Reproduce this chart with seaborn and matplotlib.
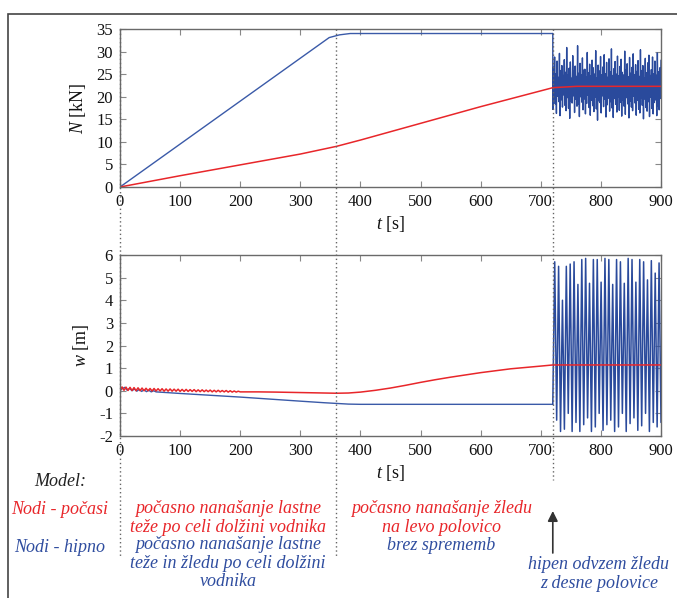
import numpy as np
import pandas as pd
import matplotlib
matplotlib.use("Agg")
import matplotlib.pyplot as plt
import seaborn as sns
from matplotlib import transforms
from matplotlib.patches import Rectangle
from matplotlib.lines import Line2D

# ---------------- data ----------------
# Axial force N [kN], model "hipno" (blue)
t_N_blue = [0, 348, 365, 383, 720]
N_blue = [0.0, 33.1, 33.7, 34.0, 34.0]
# after sudden ice removal (720 s .. 900 s), sampled values
N_blue_osc = [
    17.2, 26.5, 19.6, 28.8, 18.4, 25.1, 16.3, 27.9, 20.1, 24.3,
    18.9, 29.6, 15.8, 25.8, 19.3, 26.9, 17.7, 24.7, 20.4, 28.2,
    18.1, 25.4, 16.9, 30.9, 19.8, 24.9, 17.4, 26.3, 15.2, 27.7,
    19.0, 24.1, 18.6, 29.1, 20.2, 25.6, 16.5, 26.8, 19.4, 24.5,
    17.9, 31.3, 18.3, 25.2, 15.6, 27.4, 20.0, 24.8, 18.8, 28.6,
    17.1, 25.9, 19.5, 26.1, 16.2, 24.4, 18.5, 29.8, 20.3, 25.3,
    17.6, 27.2, 15.9, 24.6, 19.2, 28.1, 18.0, 26.4, 16.7, 25.0,
    19.9, 30.2, 17.3, 24.2, 14.8, 27.0, 19.1, 25.7, 18.7, 28.9,
    16.4, 24.9, 20.2, 26.6, 17.8, 29.3, 19.4, 25.1, 15.5, 27.6,
    18.2, 24.3, 19.7, 28.4, 16.8, 25.5, 18.9, 30.6, 17.5, 24.7,
    15.4, 26.2, 19.6, 27.8, 18.3, 25.0, 16.6, 29.0, 20.0, 24.6,
    17.0, 26.7, 18.8, 28.3, 15.7, 25.4, 19.3, 24.8, 17.9, 30.1,
    16.1, 25.9, 19.8, 27.3, 18.4, 24.4, 15.3, 28.7, 19.0, 25.2,
    17.7, 26.5, 16.9, 29.5, 20.1, 24.9, 18.6, 27.1, 15.9, 25.6,
    19.2, 28.0, 17.2, 24.5, 16.4, 30.4, 19.7, 25.8, 18.1, 26.9,
    15.1, 24.2, 19.5, 28.5, 17.6, 25.3, 16.8, 27.5, 18.9, 29.2,
    15.6, 24.7, 19.9, 26.0, 17.4, 28.8, 16.2, 25.1, 18.7, 27.9,
    19.3, 24.6, 15.8, 29.7, 18.0, 25.5, 17.1, 26.4, 19.6, 28.1,
]
# Axial force N [kN], model "počasi" (red)
t_N_red = [0, 100, 200, 300, 360, 400, 500, 600, 720, 760, 900]
N_red = [0.0, 2.5, 4.9, 7.3, 9.0, 10.4, 14.1, 17.8, 22.0, 22.3, 22.3]

# Displacement w [m], model "počasi" (red): slow ripple 0..200 s, then smooth
w_red_ripple = [
    0.00, 0.17, 0.02, 0.16, 0.01, 0.15, 0.01, 0.14, 0.00, 0.13,
    0.00, 0.12, 0.00, 0.11, 0.00, 0.10, -0.01, 0.10, -0.01, 0.09,
    -0.01, 0.09, -0.02, 0.08, -0.02, 0.08, -0.02, 0.07, -0.02, 0.07,
    -0.03, 0.06, -0.03, 0.06, -0.03, 0.05, -0.03, 0.05, -0.04, 0.04,
    -0.04, 0.04, -0.04, 0.03, -0.04, 0.03, -0.05, 0.02, -0.05, 0.02,
    -0.05, 0.01, -0.05, 0.01, -0.06, 0.00, -0.06, -0.01, -0.06, -0.02,
    -0.05,
]
t_w_red = [230, 260, 300, 340, 360, 380, 400, 425, 450, 475, 500, 525, 550, 600, 650, 700, 720, 900]
w_red = [-0.05, -0.06, -0.08, -0.10, -0.11, -0.10, -0.06, 0.02, 0.12, 0.24, 0.37, 0.49, 0.60, 0.80, 0.97, 1.09, 1.14, 1.14]

# Displacement w [m], model "hipno" (blue)
t_w_blue = [0, 4, 8, 12, 16, 20, 24, 28, 32, 36, 40, 44, 48, 52, 56, 60, 100, 150, 200, 250, 300, 340, 360, 380, 400, 720]
w_blue = [0.0, 0.10, 0.15, 0.02, 0.11, 0.00, 0.08, -0.02, 0.06, -0.03, 0.04, -0.04, 0.02, -0.05, 0.00, -0.05,
          -0.12, -0.20, -0.28, -0.37, -0.46, -0.53, -0.56, -0.59, -0.60, -0.60]
w_blue_osc = [
    -0.6, 5.7, -1.3, 5.5, -1.8, 4.0, -1.7, 5.5, -1.0, 5.6,
    -1.8, 5.7, -1.4, 4.7, -1.8, 5.8, -1.5, 5.85, -1.2, 4.75,
    -1.8, 5.8, -1.6, 5.8, -1.0, 4.8, -1.75, 5.85, -1.5, 5.8,
    -1.3, 4.7, -1.8, 5.8, -1.6, 5.7, -1.0, 4.75, -1.8, 5.85,
    -1.45, 5.8, -1.2, 4.8, -1.75, 5.8, -1.55, 5.7, -1.0, 4.9,
    -1.8, 5.75, -1.4, 5.2, -1.6, 5.65, -1.4,
]

x_ticks = [0, 100, 200, 300, 400, 500, 600, 700, 800, 900]
N_ticks = [0, 5, 10, 15, 20, 25, 30, 35]
w_ticks = [-2, -1, 0, 1, 2, 3, 4, 5, 6]
phase_times = [0, 360, 720]

RED = "#e8262a"
BLUE = "#3a5aa8"
BLUE_OSC = "#2a4a9c"
BLUE_TXT = "#2f4d9f"

# ---------------- style ----------------
sns.set_style("ticks")
plt.rcParams["font.family"] = ["Liberation Serif", "DejaVu Serif"]
plt.rcParams["mathtext.fontset"] = "custom"
plt.rcParams["mathtext.rm"] = "Liberation Serif"
plt.rcParams["mathtext.it"] = "Liberation Serif:italic"

W, H = 677, 598
fig = plt.figure(figsize=(W / 100, H / 100), dpi=100)
fig.patch.set_facecolor("white")

def fx(px):
    return px / W

def fy(py):
    return 1 - py / H

L, R = 120, 661
ax1 = fig.add_axes([fx(L), fy(187), fx(R) - fx(L), fy(29) - fy(187)])
ax2 = fig.add_axes([fx(L), fy(436), fx(R) - fx(L), fy(255) - fy(436)])

# ---- build series ----
t_N_osc = np.linspace(720, 900, len(N_blue_osc))
dfNb = pd.DataFrame({"t": t_N_blue, "v": N_blue})
dfNbo = pd.DataFrame({"t": [720] + list(t_N_osc), "v": [34.0] + list(N_blue_osc)})
dfNr = pd.DataFrame({"t": t_N_red, "v": N_red})

t_ripple = np.linspace(0, 200, len(w_red_ripple))
dfWr = pd.DataFrame({"t": list(t_ripple) + list(t_w_red),
                     "v": list(w_red_ripple) + list(w_red)})
t_w_osc = np.linspace(720, 900, len(w_blue_osc))
dfWb = pd.DataFrame({"t": t_w_blue, "v": w_blue})
dfWbo = pd.DataFrame({"t": [720] + list(t_w_osc), "v": [-0.6] + list(w_blue_osc)})

sns.lineplot(data=dfNb, x="t", y="v", ax=ax1, color=BLUE, lw=1.0,
             sort=False, estimator=None)
sns.lineplot(data=dfNbo, x="t", y="v", ax=ax1, color=BLUE_OSC, lw=1.0,
             sort=False, estimator=None)
sns.lineplot(data=dfNr, x="t", y="v", ax=ax1, color=RED, lw=1.1,
             sort=False, estimator=None)
sns.lineplot(data=dfWb, x="t", y="v", ax=ax2, color=BLUE, lw=1.0,
             sort=False, estimator=None)
sns.lineplot(data=dfWbo, x="t", y="v", ax=ax2, color=BLUE_OSC, lw=1.1,
             sort=False, estimator=None)
sns.lineplot(data=dfWr, x="t", y="v", ax=ax2, color=RED, lw=1.1,
             sort=False, estimator=None)

for ax, yt, ylab in [(ax1, N_ticks, r"$N$ [kN]"), (ax2, w_ticks, r"$w$ [m]")]:
    ax.set_xlim(0, 900)
    ax.set_ylim(yt[0], yt[-1])
    ax.set_xticks(x_ticks)
    ax.set_yticks(yt)
    ax.set_xticklabels([str(v) for v in x_ticks])
    ax.set_yticklabels([str(v) for v in yt])
    ax.tick_params(direction="in", length=4, width=0.8, color="#888888",
                   top=True, right=True, labelsize=12, pad=5, labelcolor="#111111")
    for s in ax.spines.values():
        s.set_visible(True)
        s.set_color("#6a6a6a")
        s.set_linewidth(1.0)
    ax.set_xlabel(r"$t$ [s]", fontsize=13, labelpad=3, color="#111111")
    ax.set_ylabel(ylab, fontsize=13, labelpad=6, color="#111111")

# ---- phase separation dotted lines ----
blend = transforms.blended_transform_factory(ax1.transData, fig.transFigure)
ends = {0: 556, 360: 556, 720: 480}
for tp in phase_times:
    ln = Line2D([tp, tp], [fy(29), fy(ends[tp])], transform=blend,
                ls=(0, (1, 2)), color="#666666", lw=1.0, zorder=5)
    fig.add_artist(ln)

# arrow at 720 s
ax2.annotate("", xy=(720, fy(511)), xycoords=blend,
             xytext=(720, fy(553)), textcoords=blend,
             arrowprops=dict(arrowstyle="-|>", color="#333333", lw=1.2,
                             mutation_scale=15, shrinkA=0, shrinkB=0),
             annotation_clip=False)

# ---- descriptive texts ----
kw = dict(ha="center", va="center", style="italic", fontsize=13, linespacing=1.08)
fig.text(fx(60), fy(482), "Model:", color="#222222", **kw)
fig.text(fx(60), fy(509), "Nodi - počasi", color=RED, **kw)
fig.text(fx(60), fy(547), "Nodi - hipno", color=BLUE_TXT, **kw)
fig.text(fx(228), fy(518), "počasno nanašanje lastne\nteže po celi dolžini vodnika", color=RED, **kw)
fig.text(fx(228), fy(563), "počasno nanašanje lastne\nteže in žledu po celi dolžini\nvodnika", color=BLUE_TXT, **kw)
fig.text(fx(442), fy(518), "počasno nanašanje žledu\nna levo polovico", color=RED, **kw)
fig.text(fx(441), fy(545), "brez sprememb", color=BLUE_TXT, **kw)
fig.text(fx(599), fy(574), "hipen odvzem žledu\nz desne polovice", color=BLUE_TXT, **kw)

# outer frame
fig.add_artist(Rectangle((fx(8), -0.02), 1.05, fy(14) + 0.02, transform=fig.transFigure,
                         fill=False, edgecolor="#444444", lw=1.2, clip_on=False))

fig.savefig("out.png", dpi=100, facecolor="white")
